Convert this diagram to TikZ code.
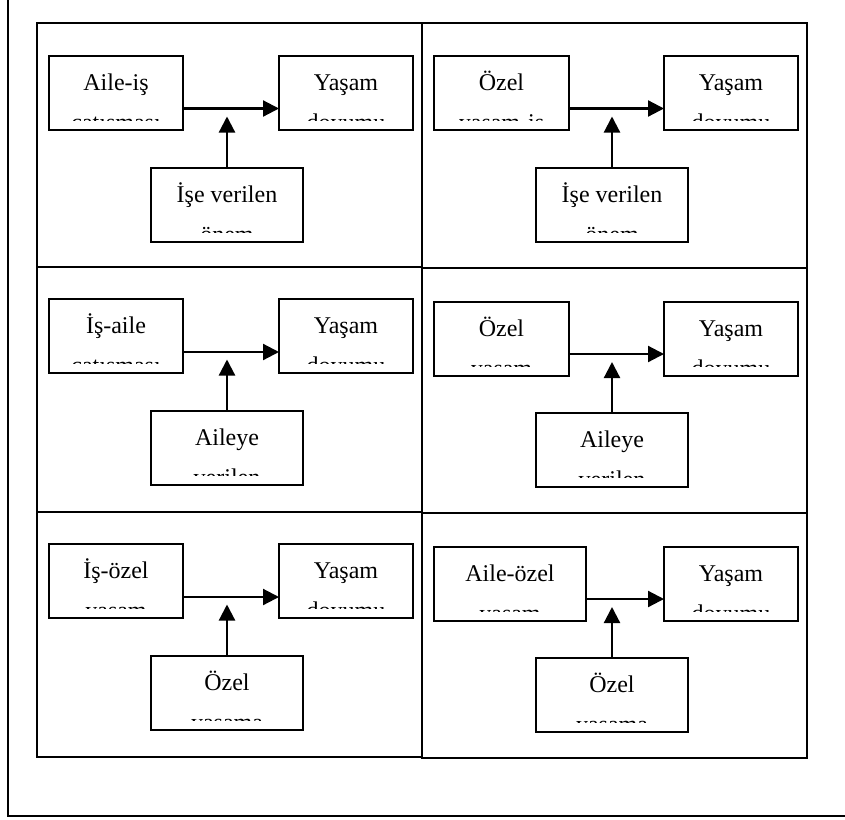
\documentclass[tikz,border=0pt]{standalone}
\usepackage{fontspec}
\setmainfont{Liberation Serif}
\usetikzlibrary{arrows.meta}
\tikzset{
  boxst/.style={draw, line width=1.6pt, inner sep=0pt, outer sep=0pt},
  panelst/.style={draw, line width=1.6pt},
  lbl/.style={anchor=base, inner sep=0pt, outer sep=0pt, font=\fontsize{24}{28}\selectfont},
  arr/.style={line width=2.2pt, -{Triangle[length=16pt,width=16pt]}},
}
\newcommand\mybox[7]{%
  \node[boxst, minimum width={(#4-#2)*1pt}, minimum height={(#5-#3)*1pt}] (#1) at ({(#2+#4)/2},{(#3+#5)/2}) {};
  \node[lbl] (#1-a) at ({(#2+#4)/2},{#3+34}) {#6};
  \begin{scope}
    \clip (#2,#3) rectangle (#4,{#5-9.5});
    \node[lbl] (#1-b) at ({(#2+#4)/2},{#5}) {#7};
  \end{scope}}
\begin{document}
\begin{tikzpicture}[x=1pt,y=-1pt]
\useasboundingbox (0,0) rectangle (845,819);
% outer frame (partly outside the picture)
\draw[line width=1.6pt] (8,0) -- (8,816) -- (845,816);
% panels
\draw[panelst] (37,23) rectangle (422,267);
\draw[panelst] (37,267) rectangle (422,512);
\draw[panelst] (37,512) rectangle (422,757);
\draw[panelst] (422,23) rectangle (807,268);
\draw[panelst] (422,268) rectangle (807,513);
\draw[panelst] (422,513) rectangle (807,758);

% panel 1
\mybox{a1}{49}{56}{183}{130}{Aile-iş}{çatışması}
\mybox{y1}{279}{56}{413}{130}{Yaşam}{doyumu}
\mybox{c1}{151}{168}{303}{242}{İşe verilen}{önem}
\coordinate (t1) at (227,116.5);
\draw[arr] ([yshift=-15.5pt]a1.east) -- ([yshift=-15.5pt]y1.west);
\draw[arr] (c1.north) -- (t1);

% panel 2
\mybox{a2}{434}{56}{569}{130}{Özel}{yaşam-iş}
\mybox{y2}{664}{56}{798}{130}{Yaşam}{doyumu}
\mybox{c2}{536}{168}{688}{242}{İşe verilen}{önem}
\coordinate (t2) at (612,116.5);
\draw[arr] ([yshift=-15.5pt]a2.east) -- ([yshift=-15.5pt]y2.west);
\draw[arr] (c2.north) -- (t2);

% panel 3
\mybox{a3}{49}{299}{183}{373}{İş-aile}{çatışması}
\mybox{y3}{279}{299}{413}{373}{Yaşam}{doyumu}
\mybox{c3}{151}{411}{303}{485}{Aileye}{verilen}
\coordinate (t3) at (227,359.5);
\draw[arr] ([yshift=-16pt]a3.east) -- ([yshift=-16pt]y3.west);
\draw[arr] (c3.north) -- (t3);

% panel 4
\mybox{a4}{434}{302}{569}{376}{Özel}{yaşam}
\mybox{y4}{664}{302}{798}{376}{Yaşam}{doyumu}
\mybox{c4}{536}{413}{688}{487}{Aileye}{verilen}
\coordinate (t4) at (612,362);
\draw[arr] ([yshift=-15pt]a4.east) -- ([yshift=-15pt]y4.west);
\draw[arr] (c4.north) -- (t4);

% panel 5
\mybox{a5}{49}{544}{183}{618}{İş-özel}{yaşam}
\mybox{y5}{279}{544}{413}{618}{Yaşam}{doyumu}
\mybox{c5}{151}{656}{303}{730}{Özel}{yaşama}
\coordinate (t5) at (227,604.5);
\draw[arr] ([yshift=-16pt]a5.east) -- ([yshift=-16pt]y5.west);
\draw[arr] (c5.north) -- (t5);

% panel 6
\mybox{a6}{434}{547}{586}{621}{Aile-özel}{yaşam}
\mybox{y6}{664}{547}{798}{621}{Yaşam}{doyumu}
\mybox{c6}{536}{658}{688}{732}{Özel}{yaşama}
\coordinate (t6) at (612,607);
\draw[arr] ([yshift=-15pt]a6.east) -- ([yshift=-15pt]y6.west);
\draw[arr] (c6.north) -- (t6);
\end{tikzpicture}
\end{document}
